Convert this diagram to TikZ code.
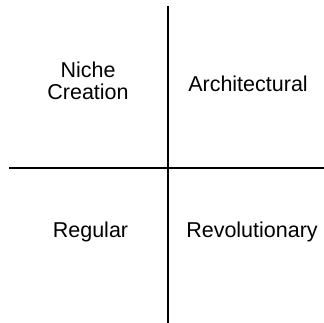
\documentclass[tikz,border=0pt]{standalone}
\usepackage{fontspec}
\setmainfont{Liberation Sans}
\begin{document}
\begin{tikzpicture}[x=1pt,y=-1pt,
  axis/.style={line width=2pt,black},
  lbl/.style={font=\fontsize{21.5}{22}\selectfont,align=center,inner sep=0pt,anchor=base}]
\useasboundingbox (0,0) rectangle (324,323);
\coordinate (vt) at (167.5,6);
\coordinate (vb) at (167.5,323);
\coordinate (hl) at (9,168);
\coordinate (hr) at (324,168);
\draw[axis] (vt) -- (vb);
\draw[axis] (hl) -- (hr);
\node[lbl] (nc) at (88,100) {Niche\\Creation};
\node[lbl] (ar) at (248,92) {Architectural};
\node[lbl] (rg) at (90.5,238) {Regular};
\node[lbl] (rv) at (252,238) {Revolutionary};
\end{tikzpicture}
\end{document}
